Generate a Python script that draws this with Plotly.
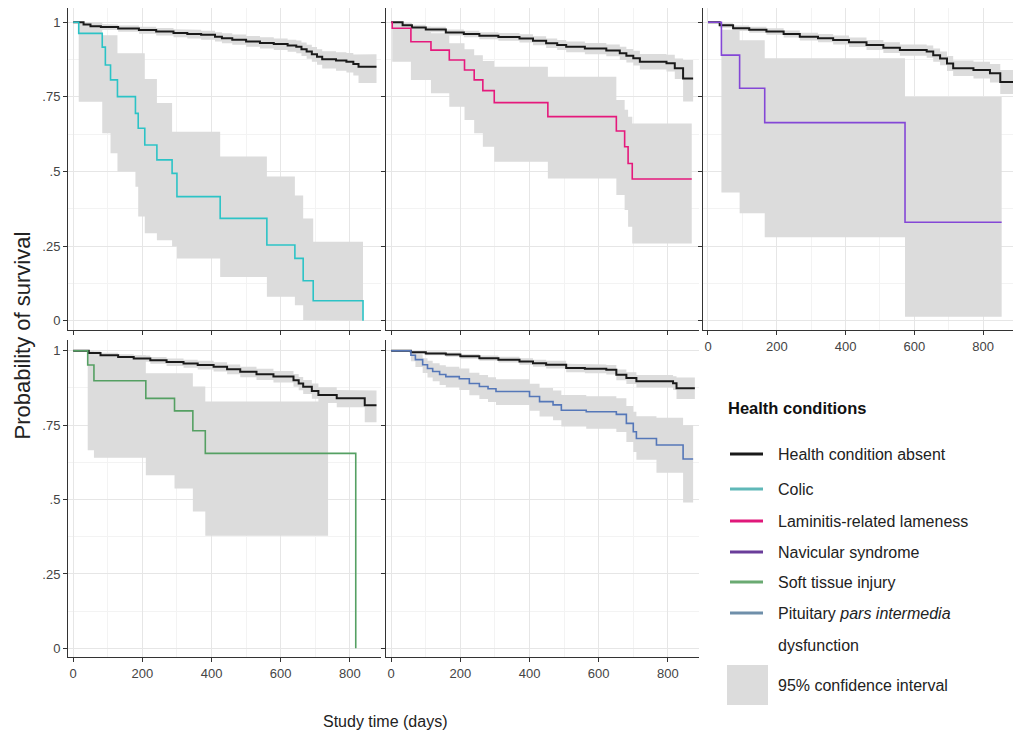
import plotly.graph_objects as go

W, H = 1013, 742
SANS = "Liberation Sans, Arial, sans-serif"

# ---------------- data ----------------
legend_title = "Health conditions"
legend_names = ["Health condition absent", "Colic", "Laminitis-related lameness",
                "Navicular syndrome", "Soft tissue injury",
                "Pituitary <i>pars intermedia</i>", "dysfunction", "95% confidence interval"]
x_ticks = [0, 200, 400, 600, 800]
y_ticks = [0, 0.25, 0.5, 0.75, 1]
y_tick_labels = ["0", ".25", ".5", ".75", "1"]

# Panel 1: absent vs colic
abs1_t = [0, 30, 50, 80, 130, 190, 240, 290, 330, 370, 410, 430, 460, 500, 540, 580, 620, 645, 660, 675, 690, 705, 720, 760, 790, 810, 825]
abs1_s = [1, .993, .987, .984, .979, .974, .969, .964, .961, .958, .952, .947, .942, .936, .931, .927, .922, .918, .910, .902, .893, .885, .876, .872, .868, .860, .851]
abs1_lo = [1, .985, .978, .974, .968, .962, .956, .950, .946, .942, .936, .930, .925, .918, .912, .907, .901, .896, .887, .878, .868, .858, .845, .838, .832, .822, .797]
abs1_hi = [1, 1, .995, .993, .989, .985, .981, .977, .975, .972, .967, .963, .959, .954, .950, .946, .942, .939, .932, .925, .917, .910, .903, .900, .897, .892, .893]
abs1_end = 877

colic_t = [0, 16, 84, 93, 108, 128, 180, 188, 207, 242, 286, 300, 425, 560, 641, 665, 694, 838]
colic_s = [1, .963, .917, .857, .807, .751, .695, .645, .589, .539, .494, .416, .343, .254, .209, .134, .067, 0]
colic_lo = [1, .734, .628, .628, .561, .5, .449, .349, .293, .27, .25, .209, .147, .08, .052, .002, 0]
colic_hi = [1, 1, .957, .957, .957, .896, .896, .896, .81, .73, .633, .633, .55, .483, .42, .343, .265]
colic_end = 838
colic_band_end = 838

# Panel 2: absent vs laminitis
abs2_t = [0, 33, 60, 100, 158, 210, 255, 310, 371, 410, 448, 480, 506, 560, 622, 661, 680, 700, 719, 796, 820, 844]
abs2_s = [1, .99, .983, .976, .966, .961, .955, .951, .946, .938, .93, .924, .918, .912, .906, .896, .888, .88, .868, .863, .846, .812]
abs2_lo = [1, .982, .974, .967, .956, .95, .943, .938, .932, .923, .914, .907, .9, .893, .886, .874, .865, .855, .842, .835, .81, .735]
abs2_hi = [1, .998, .992, .985, .976, .972, .967, .964, .96, .953, .946, .941, .936, .931, .926, .918, .911, .905, .894, .891, .879, .874]
abs2_end = 873

lam_t = [0, 3, 57, 115, 168, 212, 240, 265, 298, 453, 651, 675, 685, 697]
lam_s = [1, .98, .935, .907, .874, .84, .807, .771, .731, .684, .636, .583, .527, .475]
lam_lo = [1, .868, .807, .762, .717, .673, .628, .583, .533, .477, .421, .371, .315, .259]
lam_hi = [1, 1, .985, .963, .93, .91, .89, .87, .851, .818, .74, .707, .684, .661]
lam_end = 869
lam_band_end = 869

# Panel 3: absent vs navicular
abs3_t = [0, 34, 73, 120, 170, 220, 267, 320, 364, 410, 461, 510, 558, 636, 655, 675, 695, 713, 772, 820, 850]
abs3_s = [1, .99, .98, .975, .969, .961, .952, .947, .941, .933, .924, .915, .907, .902, .89, .879, .862, .846, .84, .829, .80]
abs3_lo = [1, .982, .971, .965, .958, .949, .939, .933, .926, .917, .907, .897, .888, .881, .868, .856, .837, .82, .812, .798, .76]
abs3_hi = [1, .997, .989, .985, .98, .973, .965, .961, .956, .949, .941, .933, .926, .922, .912, .902, .887, .872, .868, .86, .84]
abs3_end = 887

nav_t = [0, 39, 92, 165, 573]
nav_s = [1, .89, .779, .664, .33]
nav_lo = [1, .43, .36, .28, .013]
nav_hi = [1, .975, .94, .88, .75]
nav_end = 854
nav_band_end = 854

# Panel 4: absent vs soft tissue injury
abs4_t = [0, 45, 79, 130, 175, 223, 270, 319, 360, 406, 445, 483, 530, 579, 637, 652, 665, 690, 709, 762, 843]
abs4_s = [1, .992, .985, .979, .974, .968, .962, .957, .952, .946, .938, .929, .921, .913, .901, .89, .879, .865, .851, .84, .817]
abs4_lo = [1, .984, .976, .969, .963, .956, .949, .943, .937, .93, .921, .911, .902, .893, .879, .867, .855, .839, .824, .81, .76]
abs4_hi = [1, .998, .993, .988, .984, .979, .974, .97, .966, .961, .954, .946, .939, .932, .922, .912, .902, .89, .877, .868, .866]
abs4_end = 877

soft_t = [0, 42, 60, 210, 293, 346, 382, 817]
soft_s = [1, .952, .899, .84, .798, .731, .655, 0]
soft_lo = [1, .666, .64, .582, .537, .46, .378]
soft_hi = [1, 1, .985, .924, .924, .88, .829]
soft_end = 817
soft_band_end = 737

# Panel 5: absent vs PPID
abs5_t = [0, 57, 100, 158, 200, 255, 310, 371, 410, 448, 506, 560, 622, 651, 680, 709, 815, 825]
abs5_s = [1, .995, .991, .987, .981, .975, .97, .964, .958, .953, .942, .939, .936, .919, .908, .897, .891, .874]
abs5_lo = [1, .99, .985, .98, .973, .966, .96, .953, .946, .94, .928, .924, .92, .901, .888, .876, .868, .838]
abs5_hi = [1, .999, .997, .994, .989, .984, .98, .975, .97, .966, .956, .954, .952, .937, .928, .918, .914, .91]
abs5_end = 878

ppid_t = [0, 57, 70, 91, 105, 120, 140, 158, 197, 226, 255, 280, 303, 400, 429, 468, 492, 564, 651, 680, 700, 709, 767, 844]
ppid_s = [1, .985, .97, .953, .94, .93, .92, .913, .906, .89, .88, .872, .863, .846, .829, .818, .80, .795, .786, .756, .728, .705, .683, .636]
ppid_lo = [1, .965, .945, .925, .91, .897, .885, .877, .868, .85, .838, .828, .818, .798, .779, .766, .745, .738, .727, .693, .66, .634, .59, .49]
ppid_hi = [1, .996, .988, .975, .966, .958, .951, .946, .94, .926, .918, .911, .904, .889, .875, .866, .851, .847, .84, .814, .795, .78, .775, .75]
ppid_end = 873
ppid_band_end = 873

# ---------------- styles ----------------
GREY = "#DCDCDC"
BLACK = "#1a1a1a"
COLORS = ["#2CC3C6", "#E5197C", "#8447D6", "#55A063", "#5577B8"]
LEGEND_LINE_COLORS = [BLACK, "#5FB8B8", "#E0187A", "#6A3D9A", "#6AAA72", "#6F8FAA"]

# ---------------- helpers ----------------
def step_line(t, s, end):
    return list(t) + [end], list(s) + [s[-1]]

def band_poly(t, lo, hi, end):
    n = len(lo)
    tt = list(t[:n]) + [end]
    xu, yu, xl, yl = [], [], [], []
    for i in range(n):
        xu += [tt[i], tt[i + 1]]
        yu += [hi[i], hi[i]]
        xl += [tt[i], tt[i + 1]]
        yl += [lo[i], lo[i]]
    return xu + xl[::-1], yu + yl[::-1]

panels = [
    (abs1_t, abs1_s, abs1_lo, abs1_hi, abs1_end, colic_t, colic_s, colic_lo, colic_hi, colic_end, colic_band_end),
    (abs2_t, abs2_s, abs2_lo, abs2_hi, abs2_end, lam_t, lam_s, lam_lo, lam_hi, lam_end, lam_band_end),
    (abs3_t, abs3_s, abs3_lo, abs3_hi, abs3_end, nav_t, nav_s, nav_lo, nav_hi, nav_end, nav_band_end),
    (abs4_t, abs4_s, abs4_lo, abs4_hi, abs4_end, soft_t, soft_s, soft_lo, soft_hi, soft_end, soft_band_end),
    (abs5_t, abs5_s, abs5_lo, abs5_hi, abs5_end, ppid_t, ppid_s, ppid_lo, ppid_hi, ppid_end, ppid_band_end),
]
cond_names = legend_names[1:5] + ["Pituitary pars intermedia dysfunction"]

fig = go.Figure()

for k, (at, as_, alo, ahi, aend, ct, cs, clo, chi, cend, cbend) in enumerate(panels):
    xa = "x" if k == 0 else f"x{k + 1}"
    ya = "y" if k == 0 else f"y{k + 1}"
    bx, by = band_poly(at, alo, ahi, aend)
    fig.add_trace(go.Scatter(x=bx, y=by, xaxis=xa, yaxis=ya, mode="lines", fill="toself",
                             fillcolor=GREY, line=dict(width=0, color=GREY), hoverinfo="skip",
                             name="95% confidence interval"))
    bx, by = band_poly(ct, clo, chi, cbend)
    fig.add_trace(go.Scatter(x=bx, y=by, xaxis=xa, yaxis=ya, mode="lines", fill="toself",
                             fillcolor=GREY, line=dict(width=0, color=GREY), hoverinfo="skip",
                             name="95% confidence interval"))

for k, (at, as_, alo, ahi, aend, ct, cs, clo, chi, cend, cbend) in enumerate(panels):
    xa = "x" if k == 0 else f"x{k + 1}"
    ya = "y" if k == 0 else f"y{k + 1}"
    lx, ly = step_line(at, as_, aend)
    fig.add_trace(go.Scatter(x=lx, y=ly, xaxis=xa, yaxis=ya, mode="lines", line_shape="hv",
                             line=dict(color=BLACK, width=2), name=legend_names[0]))
    lx, ly = step_line(ct, cs, cend)
    fig.add_trace(go.Scatter(x=lx, y=ly, xaxis=xa, yaxis=ya, mode="lines", line_shape="hv",
                             line=dict(color=COLORS[k], width=1.6), name=cond_names[k]))

# ---------------- axes ----------------
cols = [(68 / W, 381 / W, [-15, 890]), (386 / W, 699 / W, [-15, 890]), (703 / W, 1.0, [-14.5, 887])]
rows = [((1 - 330 / H), (1 - 8 / H), [-0.031, 1.048]), ((1 - 657 / H), (1 - 340 / H), [-0.029, 1.036])]
layout_panels = [(0, 0), (0, 1), (0, 2), (1, 0), (1, 1)]

layout = {}
for k, (r, c) in enumerate(layout_panels):
    xname = "xaxis" if k == 0 else f"xaxis{k + 1}"
    yname = "yaxis" if k == 0 else f"yaxis{k + 1}"
    ya = "y" if k == 0 else f"y{k + 1}"
    xa = "x" if k == 0 else f"x{k + 1}"
    layout[xname] = dict(
        domain=[cols[c][0], cols[c][1]], range=cols[c][2], anchor=ya,
        tickvals=x_ticks, showticklabels=k in (2, 3, 4), ticks="outside", ticklen=4,
        tickcolor="#333333", tickwidth=1,
        showline=True, linecolor="#333333", linewidth=1,
        showgrid=True, gridcolor="#E6E6E6", gridwidth=1, zeroline=False,
        minor=dict(dtick=100, showgrid=True, gridcolor="#F3F3F3", gridwidth=1),
        tickfont=dict(family=SANS, size=13, color="#444444"),
    )
    layout[yname] = dict(
        domain=[rows[r][0], rows[r][1]], range=rows[r][2], anchor=xa,
        tickvals=y_ticks, ticktext=y_tick_labels, showticklabels=(c == 0),
        ticks="outside", ticklen=4, tickcolor="#333333", tickwidth=1,
        showline=True, linecolor="#333333", linewidth=1,
        showgrid=True, gridcolor="#E6E6E6", gridwidth=1, zeroline=False,
        minor=dict(dtick=0.125, showgrid=True, gridcolor="#F3F3F3", gridwidth=1),
        tickfont=dict(family=SANS, size=13, color="#444444"),
    )

# ---------------- legend (drawn by hand, ggplot-style) ----------------
leg_rows = [454, 489, 521, 552, 582, 613]
shapes = []
annotations = [
    dict(text="Probability of survival", x=22 / W, y=1 - 335.5 / H, xref="paper", yref="paper",
         xanchor="center", yanchor="middle",
         textangle=-90, showarrow=False, font=dict(family=SANS, size=22, color="#222222")),
    dict(text="Study time (days)", x=385 / W, y=1 - 721 / H, xref="paper", yref="paper",
         xanchor="center", yanchor="middle",
         showarrow=False, font=dict(family=SANS, size=16, color="#222222")),
    dict(text="<b>" + legend_title + "</b>", x=726 / W, y=1 - 408 / H, xref="paper", yref="paper",
         xanchor="left", yanchor="middle", showarrow=False,
         font=dict(family=SANS, size=16.5, color="#111111")),
]
for i, yy in enumerate(leg_rows):
    shapes.append(dict(type="line", xref="paper", yref="paper", x0=730 / W, x1=763 / W,
                       y0=1 - yy / H, y1=1 - yy / H,
                       line=dict(color=LEGEND_LINE_COLORS[i], width=3)))
    annotations.append(dict(text=legend_names[i], x=776 / W, y=1 - yy / H, xref="paper", yref="paper",
                            xanchor="left", yanchor="middle", showarrow=False,
                            font=dict(family=SANS, size=16, color="#222222")))
annotations.append(dict(text=legend_names[6], x=776 / W, y=1 - 645 / H, xref="paper", yref="paper",
                        xanchor="left", yanchor="middle", showarrow=False,
                        font=dict(family=SANS, size=16, color="#222222")))
shapes.append(dict(type="rect", xref="paper", yref="paper", x0=727 / W, x1=768 / W,
                   y0=1 - 705 / H, y1=1 - 665 / H, fillcolor=GREY, line=dict(width=0)))
annotations.append(dict(text=legend_names[7], x=776 / W, y=1 - 685 / H, xref="paper", yref="paper",
                        xanchor="left", yanchor="middle", showarrow=False,
                        font=dict(family=SANS, size=16, color="#222222")))

fig.update_layout(
    width=W, height=H, margin=dict(l=0, r=0, t=0, b=0),
    paper_bgcolor="white", plot_bgcolor="white",
    showlegend=False,
    shapes=shapes,
    annotations=annotations,
    **layout,
)

fig.write_html("out.html", config={"displayModeBar": False},
               post_script="document.body.style.margin='0';")
